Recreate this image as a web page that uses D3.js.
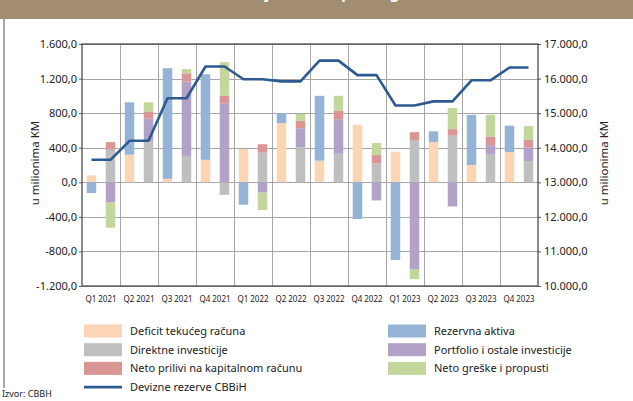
<!DOCTYPE html>
<html>
<head>
<meta charset="utf-8">
<script src="https://cdn.jsdelivr.net/npm/d3@7"></script>
<style>
  body { margin: 0; background: #fff; }
  svg { display: block; font-family: "Noto Sans", "Open Sans", sans-serif; }
</style>
</head>
<body>
<div id="chart"></div>
<script>
const quarters = ["Q1 2021", "Q2 2021", "Q3 2021", "Q4 2021", "Q1 2022", "Q2 2022",
  "Q3 2022", "Q4 2022", "Q1 2023", "Q2 2023", "Q3 2023", "Q4 2023"];

// left bar of each quarter
const deficit = [80, 320, 40, 260, 385, 685, 250, 665, 355, 465, 200, 350];
const reserveAssets = [-125, 605, 1280, 990, -260, 110, 750, -425, -900, 125, 580, 305];

// right bar of each quarter
const directInv = [375, 470, 305, -145, 345, 405, 330, 220, 490, 540, 320, 245];
const portfolioInv = [-235, 265, 860, 915, -120, 220, 400, -210, -1010, -280, 110, 160];
const capitalNet = [90, 85, 95, 85, 95, 85, 95, 95, 90, 75, 100, 85];
const errorsNet = [-290, 105, 50, 390, -200, 80, 175, 140, -110, 245, 250, 160];

// line, right axis
const fxReserves = [13650, 14200, 15430, 16350, 15980, 15920, 16520, 16100, 15220, 15340, 15950, 16320];

const leftTicks = [-1200, -800, -400, 0, 400, 800, 1200, 1600];
const rightTicks = [10000, 11000, 12000, 13000, 14000, 15000, 16000, 17000];

const colors = {
  deficit: "#fcd5b5",
  reserveAssets: "#95b3d7",
  directInv: "#bfbfbf",
  portfolioInv: "#b3a2c7",
  capitalNet: "#d99694",
  errorsNet: "#c3d69b"
};
const lineColor = "#2e5a92";

const width = 633, height = 401;
const plot = { left: 82, right: 538, top: 44, bottom: 286 };

const svg = d3.select("#chart").append("svg")
  .attr("width", width).attr("height", height);

// header band + frame (title is cut off at the top, as in the source)
svg.append("rect").attr("x", 0).attr("y", 0).attr("width", width).attr("height", 19)
  .attr("fill", "#a38d72");
svg.append("text").attr("x", 22).attr("y", -1)
  .attr("fill", "#fff").attr("font-size", 15).attr("font-weight", "bold")
  .text("Grafikon 4: Tekući račun i finansijski račun platnog bilansa");
svg.append("line").attr("x1", 4).attr("x2", 4).attr("y1", 19).attr("y2", 388)
  .attr("stroke", "#555").attr("stroke-width", 1);

const fmt = d3.formatLocale({ decimal: ",", thousands: ".", grouping: [3], currency: ["", ""], minus: "-" })
  .format(",.1f");

const x = d3.scaleBand().domain(quarters).range([plot.left, plot.right]).padding(0);
const xIn = d3.scaleBand().domain(["a", "b"]).range([0, x.bandwidth()])
  .paddingInner(0.5).paddingOuter(0.25);
const y = d3.scaleLinear().domain([-1200, 1600]).range([plot.bottom, plot.top]);
const y2 = d3.scaleLinear().domain([10000, 17000]).range([plot.bottom, plot.top]);

// grid
const grid = svg.append("g").attr("stroke", "#a6a6a6").attr("stroke-width", 1);
grid.selectAll(".h").data(leftTicks).enter().append("line")
  .attr("x1", plot.left).attr("x2", plot.right)
  .attr("y1", d => Math.round(y(d)) + 0.5).attr("y2", d => Math.round(y(d)) + 0.5);
grid.selectAll(".v").data(quarters.slice(1)).enter().append("line")
  .attr("x1", d => Math.round(x(d)) + 0.5).attr("x2", d => Math.round(x(d)) + 0.5)
  .attr("y1", plot.top).attr("y2", plot.bottom);

// stacked bars
const rows = quarters.map((q, i) => ({
  q,
  deficit: deficit[i], reserveAssets: reserveAssets[i],
  directInv: directInv[i], portfolioInv: portfolioInv[i],
  capitalNet: capitalNet[i], errorsNet: errorsNet[i]
}));

const groups = [
  { pos: "a", keys: ["deficit", "reserveAssets"] },
  { pos: "b", keys: ["directInv", "portfolioInv", "capitalNet", "errorsNet"] }
];

groups.forEach(g => {
  const series = d3.stack().keys(g.keys).offset(d3.stackOffsetDiverging)(rows);
  svg.append("g").selectAll("g").data(series).enter().append("g")
    .attr("fill", s => colors[s.key])
    .selectAll("rect").data(s => s).enter().append("rect")
    .attr("x", d => x(d.data.q) + xIn(g.pos))
    .attr("width", xIn.bandwidth())
    .attr("y", d => y(Math.max(d[0], d[1])))
    .attr("height", d => Math.abs(y(d[0]) - y(d[1])));
});

// reserves line
const linePts = [];
quarters.forEach((q, i) => {
  ["a", "b"].forEach(p => linePts.push([x(q) + xIn(p) + xIn.bandwidth() / 2, y2(fxReserves[i])]));
});
svg.append("path").datum(linePts)
  .attr("fill", "none").attr("stroke", lineColor).attr("stroke-width", 2.6)
  .attr("stroke-linejoin", "round")
  .attr("d", d3.line());

// axes
const leftAxis = svg.append("g").attr("transform", `translate(${plot.left},0)`)
  .call(d3.axisLeft(y).tickValues(leftTicks).tickFormat(fmt).tickSize(3).tickPadding(2));
const rightAxis = svg.append("g").attr("transform", `translate(${plot.right},0)`)
  .call(d3.axisRight(y2).tickValues(rightTicks).tickFormat(fmt).tickSize(3).tickPadding(3));
[leftAxis, rightAxis].forEach(a => {
  a.select(".domain").remove();
  a.selectAll("line").attr("stroke", "#595959");
  a.selectAll("text").attr("font-size", 11).attr("fill", "#222").attr("font-family", "Noto Sans");
});

svg.append("rect").attr("x", plot.left).attr("y", plot.top)
  .attr("width", plot.right - plot.left).attr("height", plot.bottom - plot.top)
  .attr("fill", "none").attr("stroke", "#404040").attr("stroke-width", 1.2);

// x labels
svg.append("g").selectAll("text").data(quarters).enter().append("text")
  .attr("x", d => x(d) + x.bandwidth() / 2).attr("y", 302)
  .attr("text-anchor", "middle").attr("font-size", 8).attr("fill", "#222")
  .text(d => d);

// axis titles
svg.append("text").attr("transform", `translate(39,163) rotate(-90)`)
  .attr("text-anchor", "middle").attr("font-size", 11.5).attr("fill", "#222")
  .text("u milionima KM");
svg.append("text").attr("transform", `translate(608,163) rotate(-90)`)
  .attr("text-anchor", "middle").attr("font-size", 11.5).attr("fill", "#222")
  .text("u milionima KM");

// legend
const legendItems = [
  { label: "Deficit tekućeg računa", key: "deficit", col: 0, row: 0 },
  { label: "Direktne investicije", key: "directInv", col: 0, row: 1 },
  { label: "Neto prilivi na kapitalnom računu", key: "capitalNet", col: 0, row: 2 },
  { label: "Devizne rezerve CBBiH", key: "line", col: 0, row: 3 },
  { label: "Rezervna aktiva", key: "reserveAssets", col: 1, row: 0 },
  { label: "Portfolio i ostale investicije", key: "portfolioInv", col: 1, row: 1 },
  { label: "Neto greške i propusti", key: "errorsNet", col: 1, row: 2 }
];
const legend = svg.append("g");
const li = legend.selectAll("g").data(legendItems).enter().append("g")
  .attr("transform", d => `translate(${d.col ? 388 : 84},${331 + d.row * 18.7})`);
li.filter(d => d.key !== "line").append("rect")
  .attr("x", 0).attr("y", -6.5).attr("width", 38).attr("height", 13)
  .attr("fill", d => colors[d.key]);
li.filter(d => d.key === "line").append("line")
  .attr("x1", 0).attr("x2", 38).attr("y1", 0).attr("y2", 0)
  .attr("stroke", lineColor).attr("stroke-width", 2.6);
li.append("text").attr("x", 46).attr("y", 4)
  .attr("font-size", 11).attr("fill", "#222")
  .text(d => d.label);

svg.append("text").attr("x", 2).attr("y", 397)
  .attr("font-size", 9).attr("fill", "#222")
  .text("Izvor: CBBH");
</script>
</body>
</html>
